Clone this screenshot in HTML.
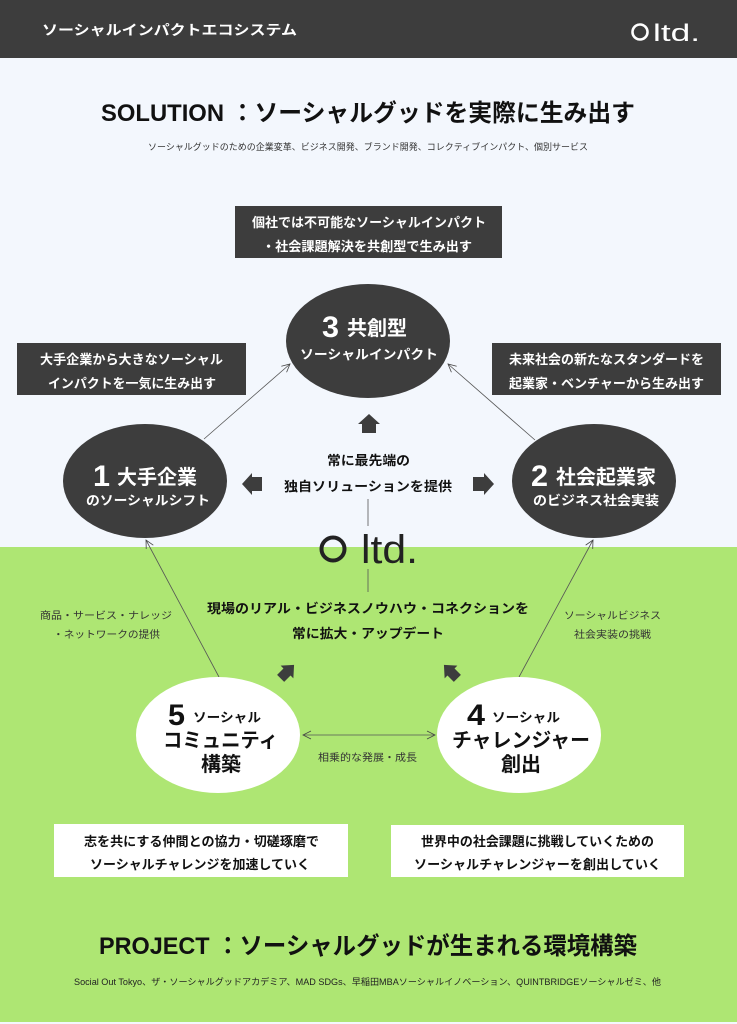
<!DOCTYPE html>
<html><head><meta charset="utf-8"><style>
html,body{margin:0;padding:0;background:#fff}
svg{display:block}
text{font-family:"Liberation Sans","Noto Sans CJK JP",sans-serif}
.b{font-weight:bold}
</style></head><body>
<svg width="737" height="1024" viewBox="0 0 737 1024" xmlns="http://www.w3.org/2000/svg">
<defs>
<marker id="ah" markerWidth="10" markerHeight="10" refX="9" refY="5" orient="auto" markerUnits="userSpaceOnUse">
<path d="M1,1 L9,5 L1,9" fill="none" stroke="#444" stroke-width="0.8"/>
</marker>
<marker id="ahs" markerWidth="10" markerHeight="10" refX="1" refY="5" orient="auto" markerUnits="userSpaceOnUse">
<path d="M9,1 L1,5 L9,9" fill="none" stroke="#444" stroke-width="0.8"/>
</marker>
</defs>
<rect x="0" y="0" width="737" height="1024" fill="#f3f7fd"/>
<rect x="0" y="547" width="737" height="475" fill="#aee673"/>
<!-- header -->
<rect x="0" y="0" width="737" height="58" fill="#3d3d3d"/>
<text x="42" y="35" font-size="14" class="b" fill="#fff" textLength="255" lengthAdjust="spacingAndGlyphs">ソーシャルインパクトエコシステム</text>
<circle cx="640" cy="32" r="7.5" fill="none" stroke="#fff" stroke-width="2.6"/>
<text x="653" y="41" font-size="24" fill="#fff" textLength="47" lengthAdjust="spacingAndGlyphs">ltd.</text>
<!-- titles -->
<text x="101" y="121" font-size="24" class="b" fill="#111" textLength="534" lengthAdjust="spacingAndGlyphs">SOLUTION ：ソーシャルグッドを実際に生み出す</text>
<text x="148" y="150" font-size="9" fill="#333" textLength="440" lengthAdjust="spacingAndGlyphs">ソーシャルグッドのための企業変革、ビジネス開発、ブランド開発、コレクティブインパクト、個別サービス</text>
<!-- top box -->
<rect x="235" y="206" width="267" height="52" fill="#3d3d3d"/>
<text x="252" y="227" font-size="13" class="b" fill="#fff" textLength="234" lengthAdjust="spacingAndGlyphs">個社では不可能なソーシャルインパクト</text>
<text x="262" y="251" font-size="13" class="b" fill="#fff" textLength="210" lengthAdjust="spacingAndGlyphs">・社会課題解決を共創型で生み出す</text>
<!-- side boxes -->
<rect x="17" y="343" width="229" height="52" fill="#3d3d3d"/>
<text x="40" y="364" font-size="13" class="b" fill="#fff" textLength="183" lengthAdjust="spacingAndGlyphs">大手企業から大きなソーシャル</text>
<text x="48" y="388" font-size="13" class="b" fill="#fff" textLength="168" lengthAdjust="spacingAndGlyphs">インパクトを一気に生み出す</text>
<rect x="492" y="343" width="229" height="52" fill="#3d3d3d"/>
<text x="509" y="364" font-size="13" class="b" fill="#fff" textLength="195" lengthAdjust="spacingAndGlyphs">未来社会の新たなスタンダードを</text>
<text x="509" y="388" font-size="13" class="b" fill="#fff" textLength="195" lengthAdjust="spacingAndGlyphs">起業家・ベンチャーから生み出す</text>
<!-- connectors -->
<line x1="204" y1="439" x2="290" y2="364" stroke="#555" stroke-width="0.8" marker-end="url(#ah)"/>
<line x1="535" y1="440" x2="448" y2="364" stroke="#555" stroke-width="0.8" marker-end="url(#ah)"/>
<line x1="219" y1="677" x2="146" y2="540" stroke="#555" stroke-width="0.8" marker-end="url(#ah)"/>
<line x1="519" y1="677" x2="593" y2="540" stroke="#555" stroke-width="0.8" marker-end="url(#ah)"/>
<line x1="303" y1="735" x2="435" y2="735" stroke="#555" stroke-width="0.8" marker-end="url(#ah)" marker-start="url(#ahs)"/>
<!-- circles -->
<ellipse cx="368" cy="341" rx="82" ry="57" fill="#3d3d3d"/>
<ellipse cx="145" cy="481" rx="82" ry="57" fill="#3d3d3d"/>
<ellipse cx="594" cy="481" rx="82" ry="57" fill="#3d3d3d"/>
<ellipse cx="218" cy="735" rx="82" ry="58" fill="#fff"/>
<ellipse cx="519" cy="735" rx="82" ry="58" fill="#fff"/>
<!-- circle 3 -->
<text x="322" y="337" font-size="30" class="b" fill="#fff" textLength="17" lengthAdjust="spacingAndGlyphs">3</text>
<text x="347" y="335" font-size="20" class="b" fill="#fff" textLength="60" lengthAdjust="spacingAndGlyphs">共創型</text>
<text x="300" y="359" font-size="13" class="b" fill="#fff" textLength="138" lengthAdjust="spacingAndGlyphs">ソーシャルインパクト</text>
<!-- circle 1 -->
<text x="93" y="486" font-size="30" class="b" fill="#fff" textLength="17" lengthAdjust="spacingAndGlyphs">1</text>
<text x="117" y="484" font-size="20" class="b" fill="#fff" textLength="80" lengthAdjust="spacingAndGlyphs">大手企業</text>
<text x="86" y="505" font-size="13" class="b" fill="#fff" textLength="124" lengthAdjust="spacingAndGlyphs">のソーシャルシフト</text>
<!-- circle 2 -->
<text x="531" y="486" font-size="30" class="b" fill="#fff" textLength="17" lengthAdjust="spacingAndGlyphs">2</text>
<text x="556" y="484" font-size="20" class="b" fill="#fff" textLength="100" lengthAdjust="spacingAndGlyphs">社会起業家</text>
<text x="533" y="505" font-size="13" class="b" fill="#fff" textLength="126" lengthAdjust="spacingAndGlyphs">のビジネス社会実装</text>
<!-- center arrows -->
<path d="M362,433 L362,424 L358,424 L369,414 L380,424 L376,424 L376,433 Z" fill="#3d3d3d"/>
<path d="M262,477 L252,477 L252,473 L242,484 L252,495 L252,491 L262,491 Z" fill="#3d3d3d"/>
<path d="M473,477 L484,477 L484,473 L494,484 L484,495 L484,491 L473,491 Z" fill="#3d3d3d"/>
<text x="327" y="465" font-size="13" class="b" fill="#111" textLength="83" lengthAdjust="spacingAndGlyphs">常に最先端の</text>
<text x="284" y="491" font-size="13" class="b" fill="#111" textLength="168" lengthAdjust="spacingAndGlyphs">独自ソリューションを提供</text>
<!-- logo -->
<line x1="368" y1="499" x2="368" y2="526" stroke="#555" stroke-width="0.8"/>
<line x1="368" y1="569" x2="368" y2="592" stroke="#555" stroke-width="0.8"/>
<circle cx="333" cy="549" r="11.5" fill="none" stroke="#222" stroke-width="4"/>
<text x="361" y="563" font-size="40" fill="#222" textLength="57" lengthAdjust="spacingAndGlyphs">ltd.</text>
<!-- green section texts -->
<text x="207" y="613" font-size="13" class="b" fill="#111" textLength="322" lengthAdjust="spacingAndGlyphs">現場のリアル・ビジネスノウハウ・コネクションを</text>
<text x="292" y="638" font-size="13" class="b" fill="#111" textLength="152" lengthAdjust="spacingAndGlyphs">常に拡大・アップデート</text>
<text x="40" y="619" font-size="10" fill="#333" textLength="132" lengthAdjust="spacingAndGlyphs">商品・サービス・ナレッジ</text>
<text x="53" y="638" font-size="10" fill="#333" textLength="107" lengthAdjust="spacingAndGlyphs">・ネットワークの提供</text>
<text x="564" y="619" font-size="10" fill="#333" textLength="97" lengthAdjust="spacingAndGlyphs">ソーシャルビジネス</text>
<text x="574" y="638" font-size="10" fill="#333" textLength="77" lengthAdjust="spacingAndGlyphs">社会実装の挑戦</text>
<!-- diagonal arrows -->
<g transform="translate(287,672) rotate(45)"><path d="M-5,9 L-5,0 L-9,0 L0,-10 L9,0 L5,0 L5,9 Z" fill="#3d3d3d"/></g>
<g transform="translate(451,672) rotate(-45)"><path d="M-5,9 L-5,0 L-9,0 L0,-10 L9,0 L5,0 L5,9 Z" fill="#3d3d3d"/></g>
<!-- circle 5 -->
<text x="168" y="725" font-size="30" class="b" fill="#111" textLength="17" lengthAdjust="spacingAndGlyphs">5</text>
<text x="193" y="722" font-size="13" class="b" fill="#111" textLength="68" lengthAdjust="spacingAndGlyphs">ソーシャル</text>
<text x="163" y="747" font-size="20" class="b" fill="#111" textLength="115" lengthAdjust="spacingAndGlyphs">コミュニティ</text>
<text x="201" y="771" font-size="20" class="b" fill="#111" textLength="40" lengthAdjust="spacingAndGlyphs">構築</text>
<!-- circle 4 -->
<text x="467" y="725" font-size="30" class="b" fill="#111" textLength="18" lengthAdjust="spacingAndGlyphs">4</text>
<text x="492" y="722" font-size="13" class="b" fill="#111" textLength="68" lengthAdjust="spacingAndGlyphs">ソーシャル</text>
<text x="452" y="747" font-size="20" class="b" fill="#111" textLength="138" lengthAdjust="spacingAndGlyphs">チャレンジャー</text>
<text x="501" y="771" font-size="20" class="b" fill="#111" textLength="40" lengthAdjust="spacingAndGlyphs">創出</text>
<text x="318" y="761" font-size="10" fill="#333" textLength="99" lengthAdjust="spacingAndGlyphs">相乗的な発展・成長</text>
<!-- white boxes -->
<rect x="54" y="824" width="294" height="53" fill="#fff"/>
<text x="84" y="846" font-size="13" class="b" fill="#111" textLength="235" lengthAdjust="spacingAndGlyphs">志を共にする仲間との協力・切磋琢磨で</text>
<text x="90" y="869" font-size="13" class="b" fill="#111" textLength="220" lengthAdjust="spacingAndGlyphs">ソーシャルチャレンジを加速していく</text>
<rect x="391" y="825" width="293" height="52" fill="#fff"/>
<text x="421" y="846" font-size="13" class="b" fill="#111" textLength="233" lengthAdjust="spacingAndGlyphs">世界中の社会課題に挑戦していくための</text>
<text x="414" y="869" font-size="13" class="b" fill="#111" textLength="247" lengthAdjust="spacingAndGlyphs">ソーシャルチャレンジャーを創出していく</text>
<!-- bottom titles -->
<text x="99" y="954" font-size="24" class="b" fill="#111" textLength="538" lengthAdjust="spacingAndGlyphs">PROJECT ：ソーシャルグッドが生まれる環境構築</text>
<text x="74" y="985" font-size="9" fill="#222" textLength="587" lengthAdjust="spacingAndGlyphs">Social Out Tokyo、ザ・ソーシャルグッドアカデミア、MAD SDGs、早稲田MBAソーシャルイノベーション、QUINTBRIDGEソーシャルゼミ、他</text>
</svg>
</body></html>
